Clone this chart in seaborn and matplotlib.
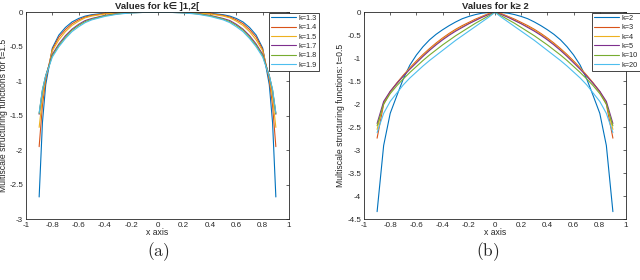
import matplotlib
matplotlib.use('Agg')
import pandas as pd
import seaborn as sns
import matplotlib.pyplot as plt


# half-profiles (x >= 0); curves are symmetric about x = 0
X_A = [0, 0.1, 0.2, 0.3, 0.4, 0.5, 0.55, 0.6, 0.65, 0.7, 0.75, 0.8, 0.825, 0.85, 0.875, 0.9]
K_A = ['k=1.3', 'k=1.4', 'k=1.5', 'k=1.7', 'k=1.8', 'k=1.9']
A_K13 = [0, 0, 0, -0.003, -0.012, -0.035, -0.055, -0.09, -0.14, -0.22, -0.33, -0.52, -0.79, -1.05, -1.6, -2.68]
A_K14 = [0, 0, -0.001, -0.006, -0.018, -0.045, -0.068, -0.11, -0.165, -0.25, -0.36, -0.54, -0.76, -0.98, -1.35, -1.95]
A_K15 = [0, 0, -0.002, -0.009, -0.025, -0.055, -0.08, -0.13, -0.19, -0.28, -0.40, -0.56, -0.76, -0.94, -1.24, -1.67]
A_K17 = [0, -0.001, -0.006, -0.02, -0.045, -0.09, -0.12, -0.175, -0.245, -0.34, -0.46, -0.61, -0.77, -0.92, -1.14, -1.48]
A_K18 = [0, -0.001, -0.007, -0.022, -0.05, -0.10, -0.135, -0.19, -0.26, -0.36, -0.48, -0.63, -0.78, -0.92, -1.13, -1.47]
A_K19 = [0, -0.0015, -0.009, -0.026, -0.06, -0.11, -0.15, -0.21, -0.28, -0.38, -0.50, -0.65, -0.79, -0.92, -1.12, -1.46]

X_B = [0, 0.05, 0.1, 0.15, 0.2, 0.25, 0.3, 0.35, 0.4, 0.45, 0.5, 0.55, 0.6, 0.65, 0.7, 0.75, 0.8, 0.85, 0.9]
K_B = ['k=2', 'k=3', 'k=4', 'k=5', 'k=10', 'k=20']
B_K2 = [0, -0.005, -0.02, -0.05, -0.09, -0.14, -0.21, -0.29, -0.38, -0.48, -0.60, -0.75, -0.93, -1.15, -1.45, -1.82, -2.2, -2.9, -4.34]
B_K3 = [0, -0.03, -0.09, -0.15, -0.22, -0.29, -0.37, -0.46, -0.56, -0.67, -0.79, -0.92, -1.06, -1.21, -1.37, -1.54, -1.73, -2.0, -2.74]
B_K4 = [0, -0.04, -0.10, -0.17, -0.24, -0.31, -0.39, -0.48, -0.58, -0.69, -0.81, -0.94, -1.08, -1.22, -1.38, -1.55, -1.73, -1.97, -2.55]
B_K5 = [0, -0.05, -0.11, -0.18, -0.25, -0.33, -0.41, -0.50, -0.60, -0.71, -0.83, -0.96, -1.10, -1.24, -1.39, -1.55, -1.72, -1.94, -2.42]
B_K10 = [0, -0.08, -0.16, -0.24, -0.33, -0.42, -0.51, -0.61, -0.71, -0.82, -0.93, -1.05, -1.18, -1.31, -1.45, -1.60, -1.77, -2.0, -2.47]
B_K20 = [0, -0.11, -0.21, -0.31, -0.41, -0.51, -0.61, -0.72, -0.83, -0.94, -1.05, -1.17, -1.30, -1.43, -1.58, -1.76, -1.94, -2.2, -2.62]

COLORS = ['#0072BD', '#D95319', '#EDB120', '#7E2F8E', '#77AC30', '#4DBEEE']


def mirror(x, y):
    return [-v for v in x[::-1]] + x[1:], y[::-1] + y[1:]


def panel(ax, xs, series, labels, title, ylabel, ylim, yticks, leg_x, ylab_x):
    for ys, lab, col in zip(series, labels, COLORS):
        fx, fy = mirror(xs, ys)
        df = pd.DataFrame({'x': fx, 'y': fy})
        sns.lineplot(data=df, x='x', y='y', ax=ax, color=col, label=lab,
                     lw=0.8, sort=False, estimator=None)

    ax.set_xlim(-1, 1)
    ax.set_ylim(*ylim)
    ax.set_xticks([i / 10 for i in range(-10, 11, 2)])
    ax.set_xticklabels(['-1', '-0.8', '-0.6', '-0.4', '-0.2', '0',
                        '0.2', '0.4', '0.6', '0.8', '1'])
    ax.set_yticks(yticks)
    ax.set_yticklabels(['%g' % v for v in yticks])
    ax.tick_params(direction='in', top=True, right=True, length=2.5,
                   width=0.5, labelsize=5.8, pad=2, colors='#262626')
    for s in ax.spines.values():
        s.set_linewidth(0.6)
        s.set_color('#262626')
    ax.set_title(title, fontsize=6.8, fontweight='bold', pad=2.5)
    ax.set_xlabel('x axis', fontsize=6.2, labelpad=-0.5)
    ax.set_ylabel(ylabel, fontsize=6.2)
    ax.yaxis.set_label_coords(ylab_x, 0.5)

    leg = ax.legend(loc='upper left', bbox_to_anchor=(leg_x, 1 - 12.5 / 280),
                    bbox_transform=ax.figure.transFigure, borderaxespad=0,
                    fontsize=5.3, handlelength=3.3, handletextpad=0.35,
                    labelspacing=0.3, borderpad=0.3, fancybox=False,
                    framealpha=1, edgecolor='#262626')
    leg.get_frame().set_linewidth(0.6)


sns.set_style('white')
plt.rcParams['font.family'] = ['Liberation Sans', 'DejaVu Sans']
plt.rcParams['axes.unicode_minus'] = False
plt.rcParams['mathtext.fontset'] = 'cm'

fig = plt.figure(figsize=(6.4, 2.8), dpi=100)
ax1 = fig.add_axes([26 / 640, 61 / 280, 263 / 640, 206.7 / 280])
ax2 = fig.add_axes([364 / 640, 61 / 280, 262 / 640, 206.7 / 280])

panel(ax1, X_A, [A_K13, A_K14, A_K15, A_K17, A_K18, A_K19], K_A,
      'Values for k\u2208 ]1,2[', 'Multiscale structuring functions for t=1.5',
      (-3, 0), [-3, -2.5, -2, -1.5, -1, -0.5, 0], 269 / 640, -0.068)
panel(ax2, X_B, [B_K2, B_K3, B_K4, B_K5, B_K10, B_K20], K_B,
      'Values for k\u2265 2', 'Multiscale structuring functions: t=0.5',
      (-4.5, 0), [-4.5, -4, -3.5, -3, -2.5, -2, -1.5, -1, -0.5, 0], 592 / 640,
      -0.073)

fig.text(158 / 640, 1 - 252 / 280, r'$\mathrm{(a)}$', fontsize=12.5,
         ha='center', va='center')
fig.text(488 / 640, 1 - 252 / 280, r'$\mathrm{(b)}$', fontsize=12.5,
         ha='center', va='center')

fig.savefig('out.png', dpi=100)
